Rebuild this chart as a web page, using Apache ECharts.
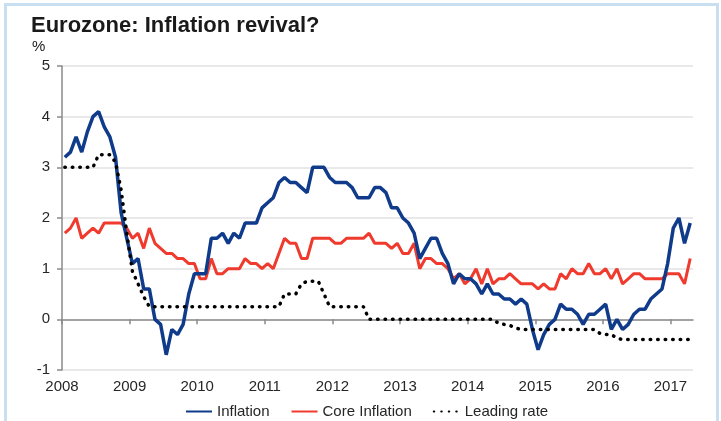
<!DOCTYPE html>
<html>
<head>
<meta charset="utf-8">
<script src="https://cdn.jsdelivr.net/npm/echarts@6/dist/echarts.min.js"></script>
<style>
  html, body { margin: 0; padding: 0; background: #fff; }
  #chart { width: 721px; height: 421px; }
</style>
</head>
<body>
<div id="chart"></div>
<script>
// monthly values, Jan 2008 .. Apr 2017
const startYear = 2008
const yearTicks = [2008, 2009, 2010, 2011, 2012, 2013, 2014, 2015, 2016, 2017]

const inflation = [
  3.2, 3.3, 3.6, 3.3, 3.7, 4.0, 4.1, 3.8, 3.6, 3.2, 2.1, 1.6,
  1.1, 1.2, 0.6, 0.6, 0.0, -0.1, -0.7, -0.2, -0.3, -0.1, 0.5, 0.9,
  0.9, 0.9, 1.6, 1.6, 1.7, 1.5, 1.7, 1.6, 1.9, 1.9, 1.9, 2.2,
  2.3, 2.4, 2.7, 2.8, 2.7, 2.7, 2.6, 2.5, 3.0, 3.0, 3.0, 2.8,
  2.7, 2.7, 2.7, 2.6, 2.4, 2.4, 2.4, 2.6, 2.6, 2.5, 2.2, 2.2,
  2.0, 1.9, 1.7, 1.2, 1.4, 1.6, 1.6, 1.3, 1.1, 0.7, 0.9, 0.8,
  0.8, 0.7, 0.5, 0.7, 0.5, 0.5, 0.4, 0.4, 0.3, 0.4, 0.3, -0.2,
  -0.6, -0.3, -0.1, 0.0, 0.3, 0.2, 0.2, 0.1, -0.1, 0.1, 0.1, 0.2,
  0.3, -0.2, 0.0, -0.2, -0.1, 0.1, 0.2, 0.2, 0.4, 0.5, 0.6, 1.1,
  1.8, 2.0, 1.5, 1.9,
]

const coreInflation = [
  1.7, 1.8, 2.0, 1.6, 1.7, 1.8, 1.7, 1.9, 1.9, 1.9, 1.9, 1.8,
  1.6, 1.7, 1.4, 1.8, 1.5, 1.4, 1.3, 1.3, 1.2, 1.2, 1.1, 1.1,
  0.8, 0.8, 1.2, 0.9, 0.9, 1.0, 1.0, 1.0, 1.2, 1.1, 1.1, 1.0,
  1.1, 1.0, 1.3, 1.6, 1.5, 1.5, 1.2, 1.2, 1.6, 1.6, 1.6, 1.6,
  1.5, 1.5, 1.6, 1.6, 1.6, 1.6, 1.7, 1.5, 1.5, 1.5, 1.4, 1.5,
  1.3, 1.3, 1.5, 1.0, 1.2, 1.2, 1.1, 1.1, 1.0, 0.8, 0.9, 0.7,
  0.8, 1.0, 0.7, 1.0, 0.7, 0.8, 0.8, 0.9, 0.8, 0.7, 0.7, 0.7,
  0.6, 0.7, 0.6, 0.6, 0.9, 0.8, 1.0, 0.9, 0.9, 1.1, 0.9, 0.9,
  1.0, 0.8, 1.0, 0.7, 0.8, 0.9, 0.9, 0.8, 0.8, 0.8, 0.8, 0.9,
  0.9, 0.9, 0.7, 1.2,
]

const leadingRate = [
  3.0, 3.0, 3.0, 3.0, 3.0, 3.0, 3.25, 3.25, 3.25, 3.1, 2.55, 1.7,
  0.95, 0.7, 0.45, 0.25, 0.25, 0.25, 0.25, 0.25, 0.25, 0.25, 0.25, 0.25,
  0.25, 0.25, 0.25, 0.25, 0.25, 0.25, 0.25, 0.25, 0.25, 0.25, 0.25, 0.25,
  0.25, 0.25, 0.25, 0.5, 0.5, 0.5, 0.7, 0.75, 0.75, 0.75, 0.5, 0.25,
  0.25, 0.25, 0.25, 0.25, 0.25, 0.25, 0, 0, 0, 0, 0, 0,
  0, 0, 0, 0, 0, 0, 0, 0, 0, 0, 0, 0,
  0, 0, 0, 0, 0, -0.08, -0.1, -0.12, -0.17, -0.2, -0.2, -0.2,
  -0.2, -0.2, -0.2, -0.2, -0.2, -0.2, -0.2, -0.2, -0.2, -0.2, -0.2, -0.28,
  -0.3, -0.3, -0.37, -0.4, -0.4, -0.4, -0.4, -0.4, -0.4, -0.4, -0.4, -0.4,
  -0.4, -0.4, -0.4, -0.4,
]

// points sit mid-month on a year scale
const toPoints = (values) => values.map((v, i) => [startYear + (i + 0.5) / 12, v])
const xMax = startYear + inflation.length / 12

const fontFamily = '"Liberation Sans", Arial, sans-serif'
const axisGrey = '#8a8a8a'

const chart = echarts.init(document.getElementById('chart'))

chart.setOption({
  animation: false,
  backgroundColor: '#fff',
  textStyle: { fontFamily },
  title: [
    {
      text: 'Eurozone: Inflation revival?',
      left: 31,
      top: 15,
      padding: 0,
      textStyle: { fontSize: 22, fontWeight: 'bold', color: '#1a1a1a', fontFamily },
    },
    {
      text: '%',
      left: 32,
      top: 39,
      padding: 0,
      textStyle: { fontSize: 15, fontWeight: 'normal', color: '#1a1a1a', fontFamily },
    },
  ],
  graphic: [
    {
      type: 'rect',
      silent: true,
      shape: { x: 5.5, y: 4.5, width: 712, height: 440 },
      style: { fill: 'none', stroke: '#c8dff2', lineWidth: 3 },
    },
  ],
  legend: {
    top: 399,
    left: 180,
    itemWidth: 26,
    itemHeight: 12,
    itemGap: 21,
    data: ['Inflation', 'Core Inflation', 'Leading rate'],
    itemStyle: { opacity: 0 },
    textStyle: { fontSize: 15, color: '#262626', fontFamily },
  },
  grid: { left: 62, right: 28, top: 66, bottom: 51 },
  xAxis: [
    {
      type: 'value',
      position: 'bottom',
      min: startYear,
      max: xMax,
      interval: 1,
      axisLine: { show: true, onZero: true, lineStyle: { color: axisGrey, width: 1.5 } },
      axisTick: { show: true, length: 5, customValues: yearTicks, lineStyle: { color: axisGrey, width: 1.5 } },
      axisLabel: { show: false },
      splitLine: { show: false },
    },
    {
      type: 'value',
      position: 'bottom',
      min: startYear,
      max: xMax,
      interval: 1,
      axisLine: { show: false, onZero: false },
      axisTick: { show: false },
      axisLabel: {
        customValues: yearTicks,
        fontSize: 15,
        color: '#262626',
        margin: 9,
        formatter: (v) => (Number.isInteger(v) ? String(v) : ''),
      },
      splitLine: { show: false },
    },
  ],
  yAxis: {
    type: 'value',
    min: -1,
    max: 5,
    interval: 1,
    axisLine: { show: true, lineStyle: { color: axisGrey, width: 1.5 } },
    axisTick: { show: true, length: 5, lineStyle: { color: axisGrey, width: 1.5 } },
    axisLabel: { fontSize: 15, color: '#262626', margin: 12 },
    splitLine: { show: true, lineStyle: { color: '#e2e2e2', width: 1.5 } },
  },
  series: [
    {
      name: 'Inflation',
      type: 'line',
      data: toPoints(inflation),
      symbol: 'none',
      z: 4,
      color: '#0f3b8a',
      lineStyle: { width: 3.5, color: '#0f3b8a' },
    },
    {
      name: 'Core Inflation',
      type: 'line',
      data: toPoints(coreInflation),
      symbol: 'none',
      z: 3,
      color: '#ef3a2d',
      lineStyle: { width: 3, color: '#ef3a2d' },
    },
    {
      name: 'Leading rate',
      type: 'line',
      data: toPoints(leadingRate),
      symbol: 'none',
      z: 5,
      color: '#000',
      lineStyle: { width: 3.5, color: '#000', type: [0.5, 7], cap: 'round' },
    },
  ],
})
</script>
</body>
</html>
